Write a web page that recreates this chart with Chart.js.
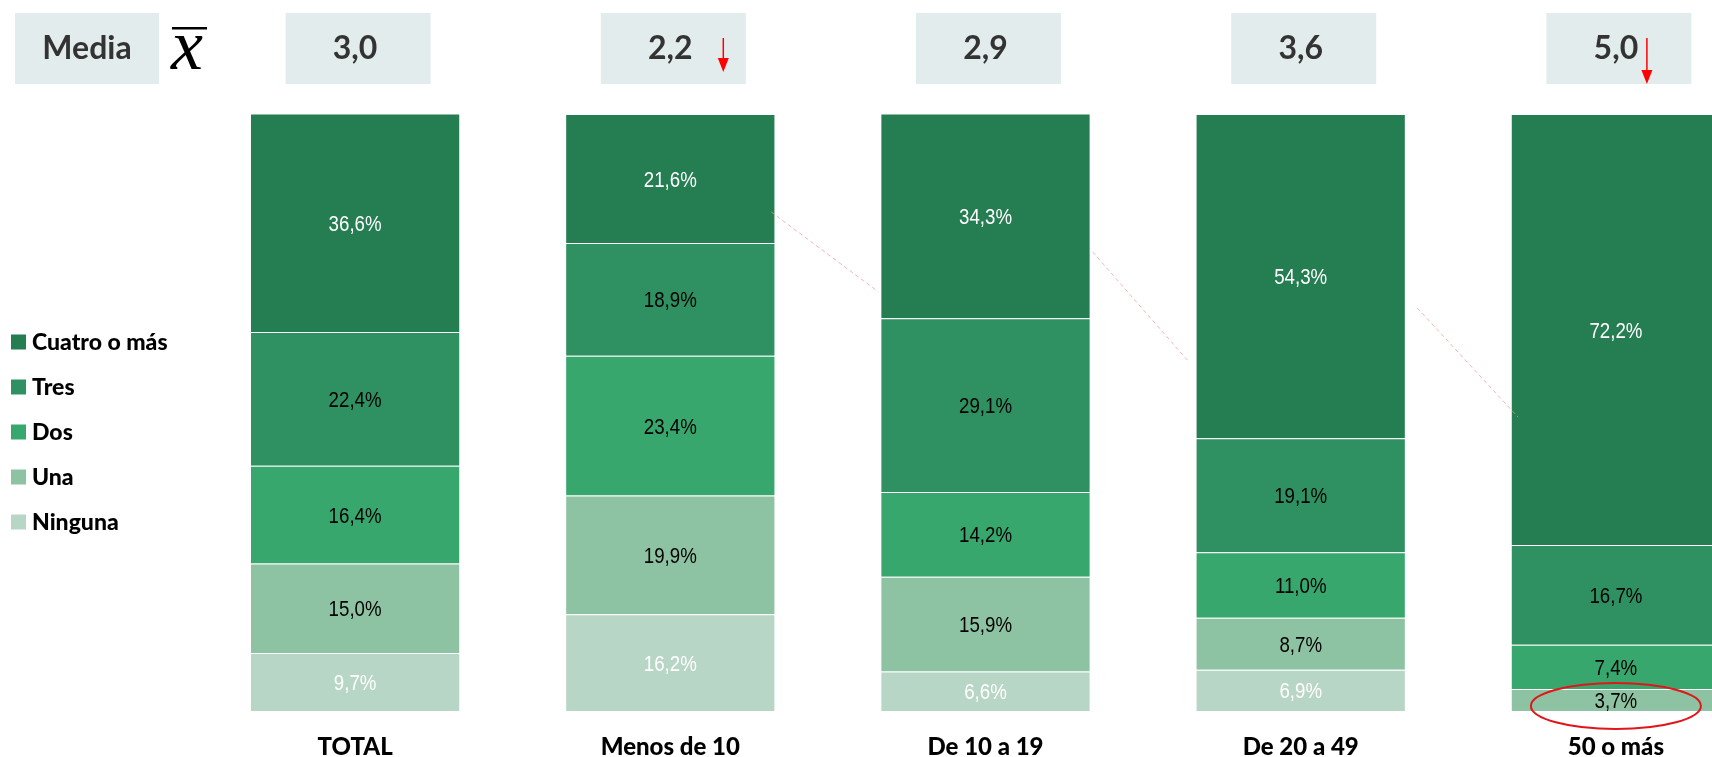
<!DOCTYPE html>
<html>
<head>
<meta charset="utf-8">
<script src="https://cdn.jsdelivr.net/npm/chart.js@4.4.1/dist/chart.umd.min.js"></script>
<style>
  html, body { margin: 0; padding: 0; background: #fff; overflow: hidden; }
  canvas { display: block; }
</style>
</head>
<body>
<canvas id="chart" width="1800" height="757"></canvas>
<script>
const categories = ["TOTAL", "Menos de 10", "De 10 a 19", "De 20 a 49", "50 o más"];
const ninguna = [9.7, 16.2, 6.6, 6.9, 0];
const una = [15.0, 19.9, 15.9, 8.7, 3.7];
const dos = [16.4, 23.4, 14.2, 11.0, 7.4];
const tres = [22.4, 18.9, 29.1, 19.1, 16.7];
const cuatroOMas = [36.6, 21.6, 34.3, 54.3, 72.2];
const medias = [3.0, 2.2, 2.9, 3.6, 5.0];
const mediaBaja = [false, true, false, false, true];

const fmt = (v) => v.toFixed(1).replace(".", ",");

const series = [
  { label: "Ninguna", data: ninguna, color: "#B8D6C5", text: "#fff" },
  { label: "Una", data: una, color: "#8DC3A2", text: "#000" },
  { label: "Dos", data: dos, color: "#38A76E", text: "#000" },
  { label: "Tres", data: tres, color: "#2F9062", text: "#000" },
  { label: "Cuatro o más", data: cuatroOMas, color: "#257D52", text: "#fff" },
];

// etiquetas de valor dentro de cada tramo
const valueLabels = {
  id: "valueLabels",
  afterDatasetsDraw(chart) {
    const ctx = chart.ctx;
    ctx.save();
    ctx.font = "22px 'Liberation Sans', sans-serif";
    ctx.textAlign = "center";
    ctx.textBaseline = "middle";
    chart.data.datasets.forEach((ds, i) => {
      chart.getDatasetMeta(i).data.forEach((bar, j) => {
        const v = ds.data[j];
        if (!v) return;
        ctx.fillStyle = series[i].text;
        // texto estrecho, como en el original
        ctx.save();
        ctx.translate(bar.x, (bar.y + bar.base) / 2 + 2);
        ctx.scale(0.85, 1);
        ctx.fillText(fmt(v) + "%", 0, 0);
        ctx.restore();
      });
    });

    // líneas discontinuas decorativas
    const xs = chart.scales.x, ys = chart.scales.y;
    const conectores = [[1.32, 83.6, 1.66, 70.2], [2.34, 76.9, 2.64, 58.8], [3.37, 67.5, 3.69, 49.2]];
    ctx.strokeStyle = "rgba(235,150,150,0.7)";
    ctx.lineWidth = 1;
    ctx.setLineDash([4, 3]);
    conectores.forEach(([a, b, c, d]) => {
      ctx.beginPath();
      ctx.moveTo(xs.getPixelForValue(a), ys.getPixelForValue(b));
      ctx.lineTo(xs.getPixelForValue(c), ys.getPixelForValue(d));
      ctx.stroke();
    });
    ctx.setLineDash([]);

    // elipse roja sobre 3,7%
    const el = chart.getDatasetMeta(1).data[4];
    ctx.strokeStyle = "#E0161B";
    ctx.lineWidth = 2;
    ctx.beginPath();
    ctx.ellipse(el.x, (el.y + el.base) / 2 + 6, 85, 23, 0, 0, Math.PI * 2);
    ctx.stroke();
    ctx.restore();
  },
  afterDraw(chart) {
    const ctx = chart.ctx;
    const xs = chart.scales.x;
    ctx.save();

    // cabecera de medias
    ctx.fillStyle = "#E3ECEC";
    ctx.fillRect(15, 13, 144, 71);
    ctx.fillStyle = "#333";
    ctx.font = "bold 32px Lato, sans-serif";
    ctx.textAlign = "center";
    ctx.textBaseline = "middle";
    ctx.fillText("Media", 87, 49);

    ctx.fillStyle = "#000";
    ctx.font = "italic 72px 'Liberation Serif', serif";
    ctx.fillText("x", 187, 50);
    ctx.fillRect(172, 27, 35, 2.5);

    const arrowDx = [0, 53, 0, 0, 31];
    const arrowEnd = [0, 72, 0, 0, 84];
    medias.forEach((m, i) => {
      const cx = xs.getPixelForValue(i);
      ctx.fillStyle = "#E3ECEC";
      ctx.fillRect(cx + 3 - 72.5, 13, 145, 71);
      ctx.fillStyle = "#333";
      ctx.font = "bold 32px Lato, sans-serif";
      ctx.fillText(fmt(m), cx, 49);
      if (mediaBaja[i]) {
        const ax = cx + arrowDx[i];
        const y1 = arrowEnd[i];
        ctx.strokeStyle = "#FF0000";
        ctx.fillStyle = "#FF0000";
        ctx.lineWidth = 1.5;
        ctx.beginPath();
        ctx.moveTo(ax, 38);
        ctx.lineTo(ax, y1 - 12);
        ctx.stroke();
        ctx.beginPath();
        ctx.moveTo(ax - 5.5, y1 - 14);
        ctx.lineTo(ax + 5.5, y1 - 14);
        ctx.lineTo(ax, y1);
        ctx.closePath();
        ctx.fill();
      }
    });

    // leyenda
    ctx.textAlign = "left";
    ctx.font = "900 23px Lato, sans-serif";
    series.slice().reverse().forEach((s, k) => {
      const y = 342 + k * 45;
      ctx.fillStyle = s.color;
      ctx.fillRect(11, y - 7.5, 15, 15);
      ctx.fillStyle = "#000";
      ctx.fillText(s.label, 32, y + 1);
    });
    ctx.restore();
  },
};

new Chart(document.getElementById("chart"), {
  type: "bar",
  data: {
    labels: categories,
    datasets: series.map((s) => ({
      label: s.label,
      data: s.data,
      backgroundColor: s.color,
      borderColor: "rgba(255,255,255,0.12)",
      borderWidth: 1,
      clip: false,
    })),
  },
  options: {
    responsive: false,
    devicePixelRatio: 1,
    animation: false,
    layout: { padding: { top: 114, left: 197.5, right: 26.5, bottom: 0 } },
    barPercentage: 0.667,
    categoryPercentage: 1,
    plugins: {
      legend: { display: false },
      tooltip: { enabled: false },
    },
    scales: {
      x: {
        stacked: true,
        grid: { display: false, drawTicks: false },
        border: { display: false },
        ticks: {
          padding: 22,
          color: "#000",
          font: { family: "Lato", weight: "900", size: 24 },
        },
        afterFit(scale) { scale.height = 46; },
      },
      y: {
        stacked: true,
        display: false,
        min: 0,
        max: 100,
      },
    },
  },
  plugins: [valueLabels],
});
</script>
</body>
</html>
